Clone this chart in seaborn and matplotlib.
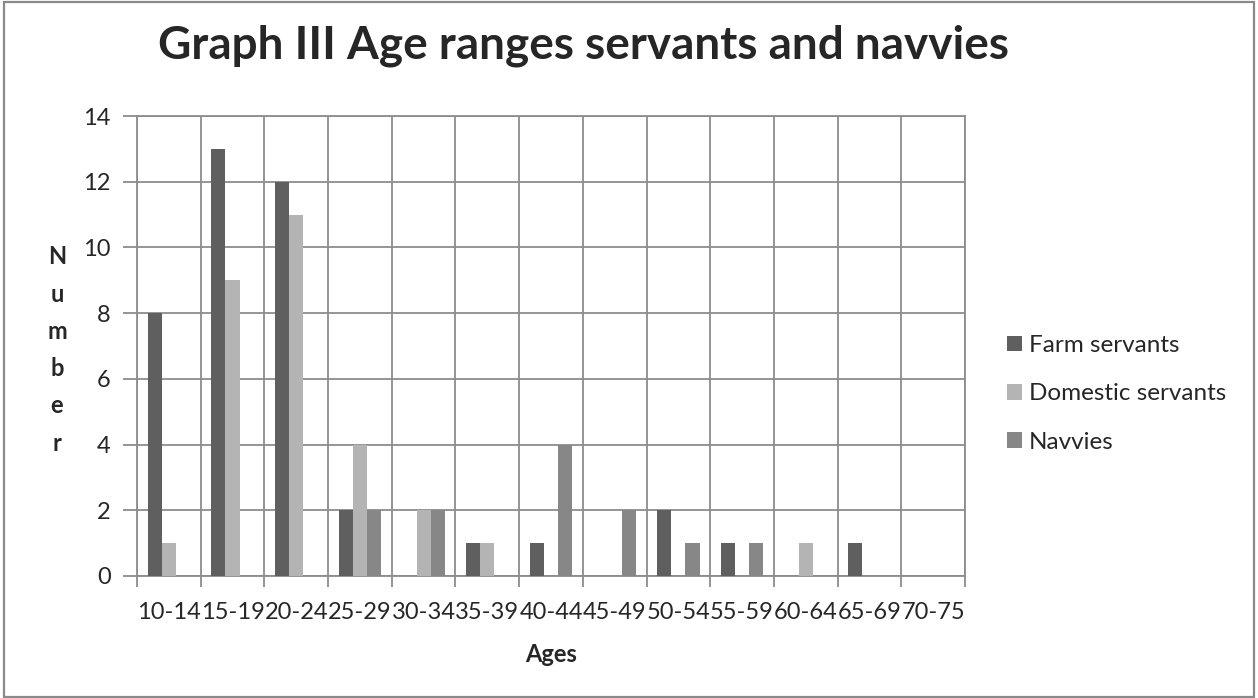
import matplotlib
matplotlib.use("Agg")
import matplotlib.pyplot as plt
from matplotlib.patches import Rectangle
import seaborn as sns
import pandas as pd
import numpy as np

age_ranges = ["10-14", "15-19", "20-24", "25-29", "30-34", "35-39", "40-44",
              "45-49", "50-54", "55-59", "60-64", "65-69", "70-75"]
farm_servants = [8, 13, 12, 2, 0, 1, 1, 0, 2, 1, 0, 1, 0]
domestic_servants = [1, 9, 11, 4, 2, 1, 0, 0, 0, 0, 1, 0, 0]
navvies = [0, 0, 0, 2, 2, 0, 4, 2, 1, 1, 0, 0, 0]
series_names = ["Farm servants", "Domestic servants", "Navvies"]
y_ticks = [0, 2, 4, 6, 8, 10, 12, 14]

colors = ["#5f5f5f", "#b4b4b4", "#878787"]
grid_color = "#8c8c8c"
body_size = 17

df = pd.DataFrame({
    "Ages": age_ranges * 3,
    "Number": farm_servants + domestic_servants + navvies,
    "Group": [s for s in series_names for _ in age_ranges],
})

sns.set_style("white")
plt.rcParams["font.family"] = ["Lato", "DejaVu Sans"]

W, H = 1258, 698
fig = plt.figure(figsize=(W / 100, H / 100), dpi=100)
ax = fig.add_axes([137 / W, 1 - 576 / H, (965 - 137) / W, (576 - 116) / H])

sns.barplot(data=df, x="Ages", y="Number", hue="Group", hue_order=series_names,
            order=age_ranges, palette=colors, width=2 / 3, linewidth=0,
            saturation=1, ax=ax, zorder=3)

n = len(age_ranges)
ax.set_xlim(-0.5, n - 0.5)
ax.set_ylim(0, 14)
ax.set_yticks(y_ticks)
ax.set_yticklabels([str(v) for v in y_ticks])

# gridlines at every y tick and at category boundaries
for v in y_ticks:
    ax.axhline(v, color=grid_color, lw=1.3, zorder=1)
for b in np.arange(-0.5, n, 1.0):
    ax.axvline(b, color=grid_color, lw=1.3, zorder=1)

for side in ["top", "right", "left", "bottom"]:
    ax.spines[side].set_color(grid_color)
    ax.spines[side].set_linewidth(1.3)

ax.set_xticks(np.arange(n))
ax.set_xticklabels(age_ranges)
ax.tick_params(axis="x", which="major", length=0, pad=19, labelsize=body_size)
ax.set_xticks(np.arange(-0.5, n, 1.0), minor=True)
ax.tick_params(axis="x", which="minor", length=8, width=1.3, color=grid_color,
               direction="out", bottom=True)
ax.tick_params(axis="y", length=10, width=1.3, color=grid_color, direction="out",
               left=True, pad=9, labelsize=body_size)
ax.set_xlabel("")
ax.set_ylabel("")

fig.text(551 / W, 1 - 654 / H, "Ages", ha="center", va="center",
         fontsize=body_size, fontweight="bold")
fig.text(57 / W, 1 - 350 / H, "\n".join("Number"), ha="center", va="center",
         fontsize=body_size, fontweight="bold", linespacing=1.75,
         multialignment="center")
fig.text(583 / W, 1 - 46 / H, "Graph III Age ranges servants and navvies",
         ha="center", va="center", fontsize=33, fontweight="bold")

handles, labels = ax.get_legend_handles_labels()
ax.legend(handles, labels, loc="center left",
          bbox_to_anchor=(1007 / W, 1 - 394 / H), bbox_transform=fig.transFigure,
          frameon=False, fontsize=body_size + 0.5, handlelength=0.6,
          handleheight=0.6, handletextpad=0.3, labelspacing=1.12,
          borderpad=0, borderaxespad=0)

# chart border
fig.patches.append(Rectangle((4 / W, 1 / H), (1254 - 4) / W, (696 - 1) / H,
                             transform=fig.transFigure, fill=False,
                             edgecolor="#8a8a8a", lw=1.6))

fig.savefig("out.png", dpi=100)
